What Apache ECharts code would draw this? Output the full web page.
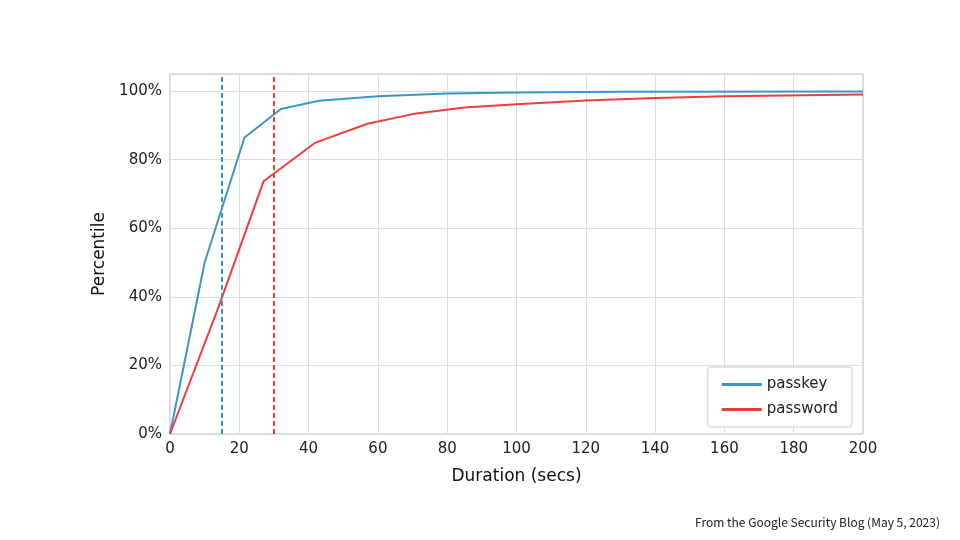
<!DOCTYPE html><html><head><meta charset="utf-8"><script src="https://cdn.jsdelivr.net/npm/echarts@6/dist/echarts.min.js"></script></head><body style="margin:0"><div id="c" style="width:960px;height:540px"></div><script>
const passkeyX=[0,10,21.5,32,43,60,80,100,130,200];
const passkeyY=[0,50,86.5,94.8,97.2,98.5,99.3,99.6,99.8,99.9];
const passwordX=[0,14,27,42,57,70,85,100,120,140,160,200];
const passwordY=[0,37,73.7,85,90.5,93.3,95.2,96.2,97.3,98,98.5,99];
const passkeyMedian=15, passwordMedian=30;
const xTicks=[0,20,40,60,80,100,120,140,160,180,200];
const zip=(a,b)=>a.map((v,i)=>[v,b[i]]);
const ch=echarts.init(document.getElementById('c'));
const f='DejaVu Sans';
ch.setOption({
animation:false,
grid:{left:170,right:97,top:74,bottom:106,show:true,borderColor:'#bbb',borderWidth:1},
xAxis:{type:'value',min:0,max:200,interval:20,name:'Duration (secs)',nameLocation:'middle',nameGap:34,nameTextStyle:{fontFamily:f,fontSize:17,color:'#111'},
axisLabel:{fontFamily:f,fontSize:15,color:'#222'},axisLine:{show:false},axisTick:{show:false},splitLine:{lineStyle:{color:'#ddd'}}},
yAxis:{type:'value',min:0,max:105,interval:20,name:'Percentile',nameLocation:'middle',nameGap:56,nameTextStyle:{fontFamily:f,fontSize:17,color:'#111'},
axisLabel:{fontFamily:f,fontSize:15,color:'#222',formatter:v=>v<=100?v+'%':''},axisLine:{show:false},axisTick:{show:false},splitLine:{lineStyle:{color:'#ddd'}}},
legend:{right:108,top:367,orient:'vertical',itemWidth:40,itemHeight:3,itemGap:10,padding:[10,14],borderColor:'#ccc',borderWidth:1,borderRadius:3,backgroundColor:'#fff',
textStyle:{fontFamily:f,fontSize:15,color:'#222'},data:['passkey','password'],icon:'rect'},
graphic:[{type:'text',right:20,bottom:12,style:{text:'From the Google Security Blog (May 5, 2023)',font:'12px "Noto Sans CJK JP"',fill:'#222'}}],
series:[
{name:'passkey',type:'line',data:zip(passkeyX,passkeyY),showSymbol:false,lineStyle:{color:'#3a96c8',width:2},itemStyle:{color:'#3a96c8'},
 markLine:{symbol:'none',silent:true,label:{show:false},lineStyle:{color:'#3a96c8',type:[5,3],width:2},data:[[{coord:[passkeyMedian,0]},{coord:[passkeyMedian,105]}]]}},
{name:'password',type:'line',data:zip(passwordX,passwordY),showSymbol:false,lineStyle:{color:'#f03c3c',width:2},itemStyle:{color:'#f03c3c'},
 markLine:{symbol:'none',silent:true,label:{show:false},lineStyle:{color:'#f03c3c',type:[5,3],width:2},data:[[{coord:[passwordMedian,0]},{coord:[passwordMedian,105]}]]}}
]});
</script></body></html>
